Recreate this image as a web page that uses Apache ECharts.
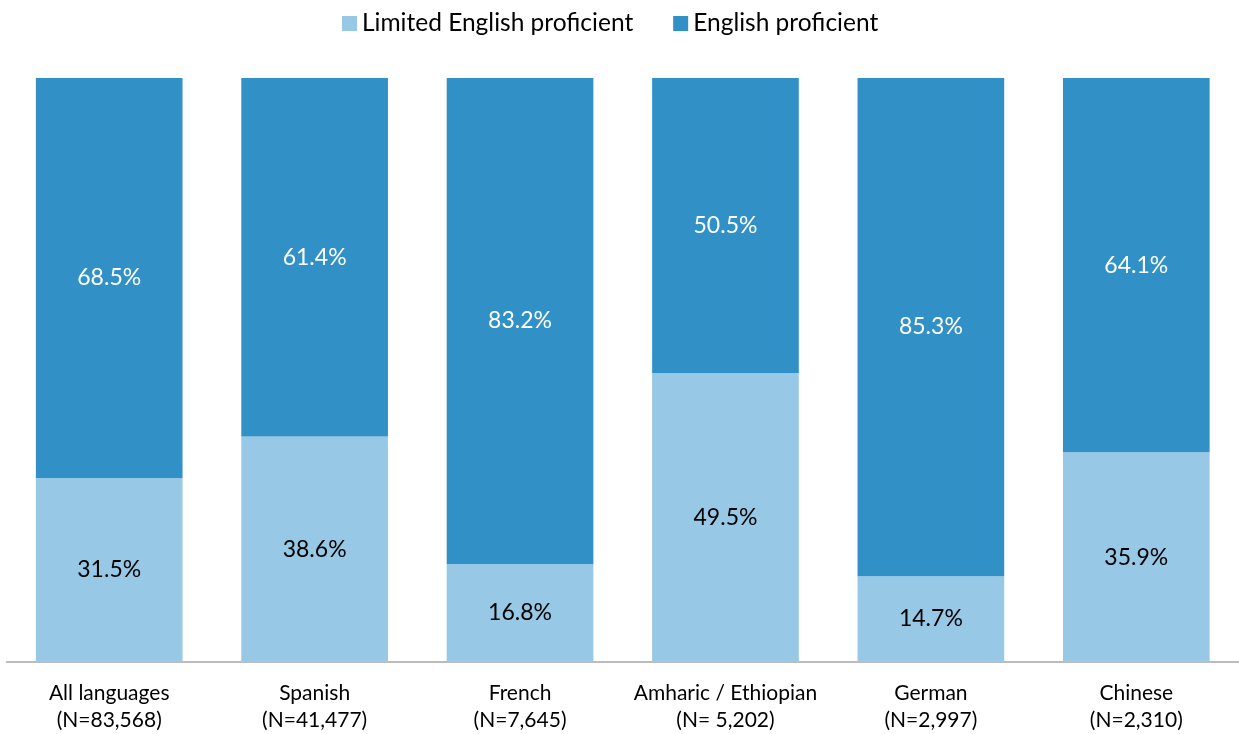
<!DOCTYPE html>
<html>
<head>
<meta charset="utf-8">
<script src="https://cdn.jsdelivr.net/npm/echarts@6/dist/echarts.min.js"></script>
<style>
html,body{margin:0;padding:0;background:#fff;}
#chart{width:1239px;height:734px;}
</style>
</head>
<body>
<div id="chart"></div>
<script>
const categories = ['All languages\n(N=83,568)', 'Spanish\n(N=41,477)', 'French\n(N=7,645)', 'Amharic / Ethiopian\n(N= 5,202)', 'German\n(N=2,997)', 'Chinese\n(N=2,310)'];
const limitedEnglish = [31.5, 38.6, 16.8, 49.5, 14.7, 35.9];
const englishProficient = [68.5, 61.4, 83.2, 50.5, 85.3, 64.1];
const seriesNames = ['Limited English proficient', 'English proficient'];

const FONT = 'Lato, "Open Sans", sans-serif';
const chart = echarts.init(document.getElementById('chart'));
chart.setOption({
  animation: false,
  textStyle: { fontFamily: FONT },
  legend: {
    top: 6,
    left: 337,
    itemWidth: 15,
    itemHeight: 15,
    itemGap: 40,
    icon: 'rect',
    textStyle: { fontSize: 24.5, color: '#000', fontFamily: FONT },
    data: seriesNames
  },
  grid: { left: 6.5, right: -3.5, top: 78, bottom: 72, containLabel: false },
  xAxis: {
    type: 'category',
    data: categories,
    axisLine: { lineStyle: { color: '#a6a6a6', width: 1.5 } },
    axisTick: { show: false },
    axisLabel: { interval: 0, fontSize: 21, color: '#000', lineHeight: 27, margin: 18, fontFamily: FONT }
  },
  yAxis: {
    type: 'value', min: 0, max: 100, show: false,
    splitLine: { show: false }
  },
  series: [
    {
      name: seriesNames[0], type: 'bar', stack: 'total', data: limitedEnglish,
      barWidth: '71.4%',
      itemStyle: { color: '#97c8e5' },
      label: { show: true, position: 'inside', formatter: p => p.value.toFixed(1) + '%', fontSize: 23, color: '#000', fontFamily: FONT }
    },
    {
      name: seriesNames[1], type: 'bar', stack: 'total', data: englishProficient,
      barWidth: '71.4%',
      itemStyle: { color: '#3190c5' },
      label: { show: true, position: 'inside', formatter: p => p.value.toFixed(1) + '%', fontSize: 23, color: '#fff', fontFamily: FONT }
    }
  ]
});
</script>
</body>
</html>
